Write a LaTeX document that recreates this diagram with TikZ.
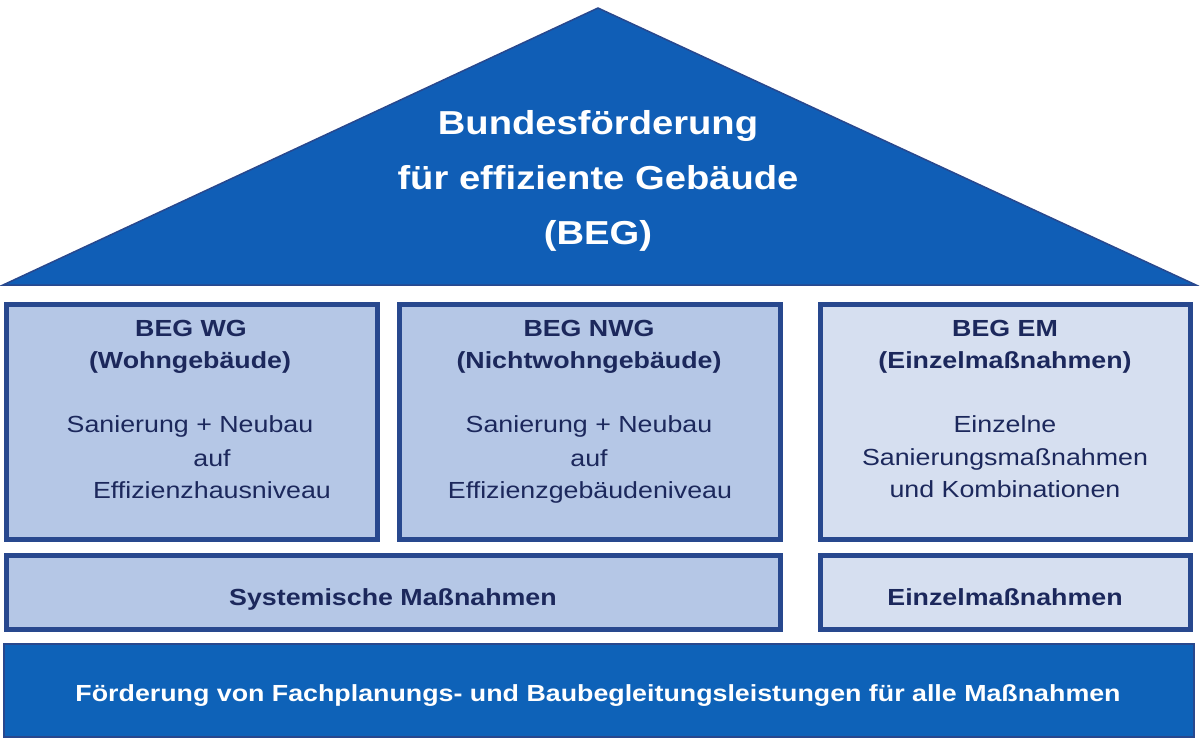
\documentclass[tikz,border=0pt]{standalone}
\usepackage{fontspec}
\setmainfont[FakeStretch=1.15]{Liberation Sans}
\begin{document}
\begin{tikzpicture}[x=1pt,y=-1pt,
  roofcol/.style={fill=roofblue,draw=edgeblue,line width=1.5pt,line join=miter},
  boxA/.style={rectangle,draw=edgeblue,line width=5pt,fill=boxblue,inner sep=0pt},
  boxB/.style={boxA,fill=boxpale},
  barbox/.style={rectangle,draw=edgeblue,line width=2pt,fill=barblue,inner sep=0pt},
  title/.style={font=\fontsize{23.3}{28}\selectfont\bfseries,text=navy,inner sep=0pt,anchor=base},
  body/.style={font=\fontsize{23.3}{28}\selectfont,text=navy,inner sep=0pt,anchor=base},
  rooftext/.style={font=\fontsize{33.2}{40}\selectfont\bfseries,text=white,inner sep=0pt,anchor=base},
  bartext/.style={font=\fontsize{23.3}{28}\selectfont\bfseries,text=white,inner sep=0pt,anchor=base}
]
\definecolor{roofblue}{RGB}{16,94,182}
\definecolor{barblue}{RGB}{14,98,184}
\definecolor{edgeblue}{RGB}{40,72,142}
\definecolor{boxblue}{RGB}{181,199,230}
\definecolor{boxpale}{RGB}{214,223,240}
\definecolor{navy}{RGB}{28,40,92}
\useasboundingbox[fill=white] (0,0) rectangle (1200,745);

% roof
\coordinate (apex) at (598,8);
\coordinate (rl) at (3,285);
\coordinate (rr) at (1196,285);
\draw[roofcol] (apex) -- (rr) -- (rl) -- cycle;
\node[rooftext] (r1) at (598,134) {Bundesförderung};
\node[rooftext] (r2) at (598,189) {für effiziente Gebäude};
\node[rooftext] (r3) at (598,244) {(BEG)};

% boxes
\node[boxA,minimum width=371pt,minimum height=235pt] (wg) at (192,422) {};
\node[boxA,minimum width=381pt,minimum height=235pt] (nwg) at (590,422) {};
\node[boxB,minimum width=370pt,minimum height=235pt] (em) at (1005.5,422) {};
\node[boxA,minimum width=774pt,minimum height=74pt] (sys) at (393.5,592.5) {};
\node[boxB,minimum width=370pt,minimum height=74pt] (ein) at (1005.5,592.5) {};
\node[barbox,minimum width=1190pt,minimum height=93pt] (bar) at (599,690.5) {};

% WG texts
\node[title] (wg1) at (191,336) {BEG WG};
\node[title] (wg2) at (190,368) {(Wohngebäude)};
\node[body] (wg3) at (190,432) {Sanierung + Neubau};
\node[body] (wg4) at (212,466) {auf};
\node[body] (wg5) at (212,498) {Effizienzhausniveau};

% NWG texts
\node[title] (n1) at (589,336) {BEG NWG};
\node[title] (n2) at (589,368) {(Nichtwohngebäude)};
\node[body] (n3) at (589,432) {Sanierung + Neubau};
\node[body] (n4) at (589,466) {auf};
\node[body] (n5) at (590,498) {Effizienzgebäudeniveau};

% EM texts
\node[title] (e1) at (1005,336) {BEG EM};
\node[title] (e2) at (1005,368) {(Einzelmaßnahmen)};
\node[body] (e3) at (1005,432) {Einzelne};
\node[body] (e4) at (1005,465) {Sanierungsmaßnahmen};
\node[body] (e5) at (1005,497) {und Kombinationen};

% lower texts
\node[title] (s1) at (393,605) {Systemische Maßnahmen};
\node[title] (s2) at (1005,605) {Einzelmaßnahmen};
\node[bartext] (b1) at (598,701) {Förderung von Fachplanungs- und Baubegleitungsleistungen für alle Maßnahmen};
\end{tikzpicture}
\end{document}
